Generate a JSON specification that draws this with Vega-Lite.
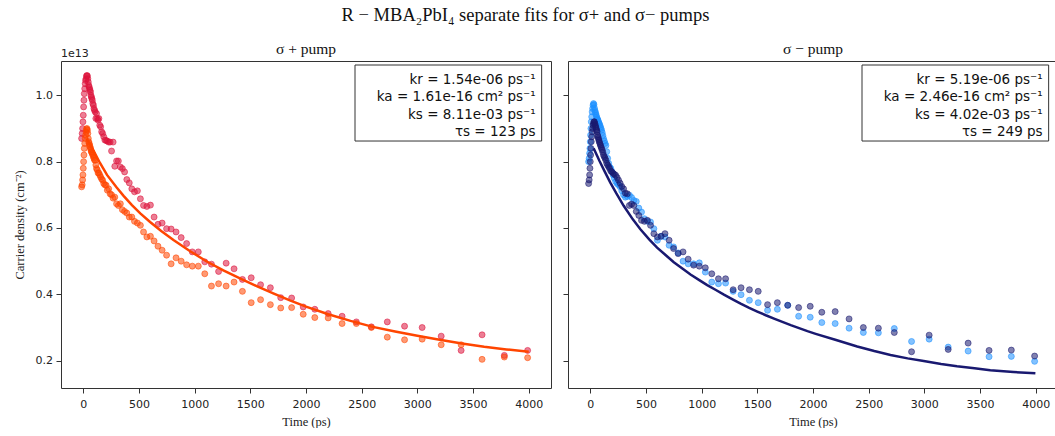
{
"$schema":"https://vega.github.io/schema/vega-lite/v6.json",
"padding":{"left":12,"top":5,"right":0,"bottom":0},
"background":"white",
"config":{"view":{"stroke":"#333","strokeWidth":1},
"axis":{"grid":false,"domain":false,"tickColor":"#333","tickSize":5,"labelFont":"DejaVu Sans","labelFontSize":11,"labelColor":"#222","labelPadding":3.5,"titleFont":"Liberation Serif","titleFontSize":12.5,"titleFontWeight":"normal","titleColor":"#222"},
"axisX":{"labelPadding":5,"titlePadding":6},
"title":{"font":"Liberation Serif","fontWeight":"normal","color":"#111"}},
"title":{"text":"R − MBA₂PbI₄ separate  fits for σ+  and σ−  pumps","fontSize":18.5,"anchor":"middle","offset":17,"dx":-10},
"spacing":10,
"datasets":{
"pts":[
{"s":"L1","t":-15,"n":0.87},{"s":"L1","t":-10,"n":0.885},{"s":"L1","t":-6,"n":0.9},{"s":"L1","t":-3,"n":0.92},{"s":"L1","t":0,"n":0.94},{"s":"L1","t":3,"n":0.965},{"s":"L1","t":6,"n":0.985},{"s":"L1","t":9,"n":1.005},{"s":"L1","t":13,"n":1.02},{"s":"L1","t":17,"n":1.035},{"s":"L1","t":21,"n":1.045},{"s":"L1","t":25,"n":1.05},{"s":"L1","t":29,"n":1.058},{"s":"L1","t":33,"n":1.06},{"s":"L1","t":37,"n":1.058},{"s":"L1","t":41,"n":1.05},{"s":"L1","t":45,"n":1.04},{"s":"L1","t":49,"n":1.03},{"s":"L1","t":53,"n":1.025},{"s":"L1","t":57,"n":1.02},{"s":"L1","t":61,"n":1.015},{"s":"L1","t":65,"n":1.01},{"s":"L1","t":69,"n":1.0},{"s":"L1","t":73,"n":0.995},{"s":"L1","t":77,"n":0.99},{"s":"L1","t":81,"n":0.985},{"s":"L1","t":86,"n":0.975},{"s":"L1","t":91,"n":0.97},{"s":"L1","t":96,"n":0.96},{"s":"L1","t":101,"n":0.955},{"s":"L1","t":107,"n":0.95},{"s":"L1","t":113,"n":0.93},{"s":"L1","t":119,"n":0.945},{"s":"L1","t":126,"n":0.93},{"s":"L1","t":133,"n":0.925},{"s":"L1","t":140,"n":0.93},{"s":"L1","t":148,"n":0.91},{"s":"L1","t":156,"n":0.905},{"s":"L1","t":165,"n":0.89},{"s":"L1","t":174,"n":0.885},{"s":"L1","t":184,"n":0.875},{"s":"L1","t":194,"n":0.865},{"s":"L1","t":205,"n":0.864},{"s":"L1","t":216,"n":0.862},{"s":"L1","t":228,"n":0.859},{"s":"L1","t":241,"n":0.859},{"s":"L1","t":254,"n":0.832},{"s":"L1","t":268,"n":0.859},{"s":"L1","t":283,"n":0.786},{"s":"L1","t":299,"n":0.802},{"s":"L1","t":315,"n":0.802},{"s":"L1","t":333,"n":0.784},{"s":"L1","t":351,"n":0.779},{"s":"L1","t":371,"n":0.769},{"s":"L1","t":391,"n":0.746},{"s":"L1","t":413,"n":0.736},{"s":"L1","t":436,"n":0.718},{"s":"L1","t":460,"n":0.709},{"s":"L1","t":486,"n":0.712},{"s":"L1","t":513,"n":0.688},{"s":"L1","t":541,"n":0.668},{"s":"L1","t":571,"n":0.665},{"s":"L1","t":603,"n":0.669},{"s":"L1","t":636,"n":0.633},{"s":"L1","t":671,"n":0.611},{"s":"L1","t":708,"n":0.615},{"s":"L1","t":748,"n":0.598},{"s":"L1","t":789,"n":0.597},{"s":"L1","t":833,"n":0.588},{"s":"L1","t":879,"n":0.571},{"s":"L1","t":928,"n":0.553},{"s":"L1","t":979,"n":0.528},{"s":"L1","t":1033,"n":0.528},{"s":"L1","t":1091,"n":0.498},{"s":"L1","t":1151,"n":0.491},{"s":"L1","t":1215,"n":0.469},{"s":"L1","t":1283,"n":0.494},{"s":"L1","t":1354,"n":0.477},{"s":"L1","t":1429,"n":0.445},{"s":"L1","t":1508,"n":0.45},{"s":"L1","t":1592,"n":0.429},{"s":"L1","t":1680,"n":0.42},{"s":"L1","t":1773,"n":0.39},{"s":"L1","t":1871,"n":0.389},{"s":"L1","t":1975,"n":0.362},{"s":"L1","t":2079,"n":0.355},{"s":"L1","t":2199,"n":0.342},{"s":"L1","t":2324,"n":0.334},{"s":"L1","t":2452,"n":0.317},{"s":"L1","t":2587,"n":0.302},{"s":"L1","t":2730,"n":0.317},{"s":"L1","t":2885,"n":0.304},{"s":"L1","t":3043,"n":0.3},{"s":"L1","t":3214,"n":0.274},{"s":"L1","t":3393,"n":0.231},{"s":"L1","t":3581,"n":0.278},{"s":"L1","t":3781,"n":0.216},{"s":"L1","t":3990,"n":0.231},
{"s":"L2","t":-15,"n":0.724},{"s":"L2","t":-10,"n":0.73},{"s":"L2","t":-6,"n":0.745},{"s":"L2","t":-3,"n":0.76},{"s":"L2","t":0,"n":0.78},{"s":"L2","t":3,"n":0.8},{"s":"L2","t":6,"n":0.82},{"s":"L2","t":9,"n":0.84},{"s":"L2","t":13,"n":0.855},{"s":"L2","t":17,"n":0.87},{"s":"L2","t":21,"n":0.88},{"s":"L2","t":25,"n":0.89},{"s":"L2","t":29,"n":0.898},{"s":"L2","t":33,"n":0.9},{"s":"L2","t":37,"n":0.895},{"s":"L2","t":41,"n":0.885},{"s":"L2","t":45,"n":0.87},{"s":"L2","t":49,"n":0.86},{"s":"L2","t":53,"n":0.855},{"s":"L2","t":57,"n":0.85},{"s":"L2","t":61,"n":0.845},{"s":"L2","t":65,"n":0.84},{"s":"L2","t":69,"n":0.835},{"s":"L2","t":73,"n":0.83},{"s":"L2","t":77,"n":0.828},{"s":"L2","t":81,"n":0.824},{"s":"L2","t":86,"n":0.82},{"s":"L2","t":91,"n":0.815},{"s":"L2","t":96,"n":0.81},{"s":"L2","t":101,"n":0.805},{"s":"L2","t":107,"n":0.804},{"s":"L2","t":113,"n":0.79},{"s":"L2","t":119,"n":0.779},{"s":"L2","t":126,"n":0.775},{"s":"L2","t":133,"n":0.766},{"s":"L2","t":140,"n":0.766},{"s":"L2","t":148,"n":0.76},{"s":"L2","t":156,"n":0.754},{"s":"L2","t":165,"n":0.748},{"s":"L2","t":174,"n":0.744},{"s":"L2","t":184,"n":0.734},{"s":"L2","t":194,"n":0.73},{"s":"L2","t":205,"n":0.729},{"s":"L2","t":216,"n":0.714},{"s":"L2","t":228,"n":0.718},{"s":"L2","t":241,"n":0.703},{"s":"L2","t":254,"n":0.7},{"s":"L2","t":268,"n":0.69},{"s":"L2","t":283,"n":0.693},{"s":"L2","t":299,"n":0.673},{"s":"L2","t":315,"n":0.668},{"s":"L2","t":333,"n":0.673},{"s":"L2","t":351,"n":0.655},{"s":"L2","t":371,"n":0.65},{"s":"L2","t":391,"n":0.645},{"s":"L2","t":413,"n":0.633},{"s":"L2","t":436,"n":0.633},{"s":"L2","t":460,"n":0.62},{"s":"L2","t":486,"n":0.615},{"s":"L2","t":513,"n":0.608},{"s":"L2","t":541,"n":0.588},{"s":"L2","t":571,"n":0.573},{"s":"L2","t":603,"n":0.575},{"s":"L2","t":636,"n":0.561},{"s":"L2","t":671,"n":0.545},{"s":"L2","t":708,"n":0.533},{"s":"L2","t":748,"n":0.518},{"s":"L2","t":789,"n":0.492},{"s":"L2","t":833,"n":0.51},{"s":"L2","t":879,"n":0.5},{"s":"L2","t":928,"n":0.489},{"s":"L2","t":979,"n":0.485},{"s":"L2","t":1033,"n":0.485},{"s":"L2","t":1091,"n":0.462},{"s":"L2","t":1151,"n":0.425},{"s":"L2","t":1215,"n":0.432},{"s":"L2","t":1283,"n":0.425},{"s":"L2","t":1354,"n":0.437},{"s":"L2","t":1429,"n":0.409},{"s":"L2","t":1508,"n":0.375},{"s":"L2","t":1592,"n":0.384},{"s":"L2","t":1680,"n":0.369},{"s":"L2","t":1773,"n":0.359},{"s":"L2","t":1871,"n":0.36},{"s":"L2","t":1975,"n":0.34},{"s":"L2","t":2079,"n":0.33},{"s":"L2","t":2199,"n":0.329},{"s":"L2","t":2324,"n":0.312},{"s":"L2","t":2452,"n":0.312},{"s":"L2","t":2587,"n":0.3},{"s":"L2","t":2730,"n":0.271},{"s":"L2","t":2885,"n":0.263},{"s":"L2","t":3043,"n":0.265},{"s":"L2","t":3214,"n":0.248},{"s":"L2","t":3393,"n":0.248},{"s":"L2","t":3581,"n":0.204},{"s":"L2","t":3781,"n":0.211},{"s":"L2","t":3990,"n":0.209},
{"s":"R2","t":-15,"n":0.8},{"s":"R2","t":-10,"n":0.81},{"s":"R2","t":-6,"n":0.825},{"s":"R2","t":-3,"n":0.84},{"s":"R2","t":0,"n":0.86},{"s":"R2","t":3,"n":0.88},{"s":"R2","t":6,"n":0.9},{"s":"R2","t":9,"n":0.92},{"s":"R2","t":13,"n":0.935},{"s":"R2","t":17,"n":0.95},{"s":"R2","t":21,"n":0.96},{"s":"R2","t":25,"n":0.97},{"s":"R2","t":29,"n":0.975},{"s":"R2","t":33,"n":0.972},{"s":"R2","t":37,"n":0.962},{"s":"R2","t":41,"n":0.955},{"s":"R2","t":45,"n":0.95},{"s":"R2","t":49,"n":0.945},{"s":"R2","t":53,"n":0.94},{"s":"R2","t":57,"n":0.935},{"s":"R2","t":61,"n":0.93},{"s":"R2","t":65,"n":0.928},{"s":"R2","t":69,"n":0.925},{"s":"R2","t":73,"n":0.92},{"s":"R2","t":77,"n":0.917},{"s":"R2","t":81,"n":0.914},{"s":"R2","t":86,"n":0.91},{"s":"R2","t":91,"n":0.905},{"s":"R2","t":96,"n":0.9},{"s":"R2","t":101,"n":0.895},{"s":"R2","t":107,"n":0.888},{"s":"R2","t":113,"n":0.879},{"s":"R2","t":119,"n":0.87},{"s":"R2","t":126,"n":0.862},{"s":"R2","t":133,"n":0.855},{"s":"R2","t":140,"n":0.849},{"s":"R2","t":148,"n":0.83},{"s":"R2","t":156,"n":0.81},{"s":"R2","t":165,"n":0.795},{"s":"R2","t":174,"n":0.784},{"s":"R2","t":184,"n":0.78},{"s":"R2","t":194,"n":0.77},{"s":"R2","t":205,"n":0.76},{"s":"R2","t":216,"n":0.75},{"s":"R2","t":228,"n":0.74},{"s":"R2","t":241,"n":0.734},{"s":"R2","t":254,"n":0.73},{"s":"R2","t":268,"n":0.724},{"s":"R2","t":283,"n":0.712},{"s":"R2","t":299,"n":0.7},{"s":"R2","t":315,"n":0.693},{"s":"R2","t":333,"n":0.695},{"s":"R2","t":351,"n":0.699},{"s":"R2","t":371,"n":0.692},{"s":"R2","t":391,"n":0.683},{"s":"R2","t":413,"n":0.68},{"s":"R2","t":436,"n":0.66},{"s":"R2","t":460,"n":0.648},{"s":"R2","t":486,"n":0.628},{"s":"R2","t":513,"n":0.62},{"s":"R2","t":541,"n":0.618},{"s":"R2","t":571,"n":0.598},{"s":"R2","t":603,"n":0.563},{"s":"R2","t":636,"n":0.575},{"s":"R2","t":671,"n":0.573},{"s":"R2","t":708,"n":0.548},{"s":"R2","t":748,"n":0.543},{"s":"R2","t":789,"n":0.525},{"s":"R2","t":833,"n":0.5},{"s":"R2","t":879,"n":0.492},{"s":"R2","t":928,"n":0.492},{"s":"R2","t":979,"n":0.495},{"s":"R2","t":1033,"n":0.467},{"s":"R2","t":1091,"n":0.437},{"s":"R2","t":1151,"n":0.432},{"s":"R2","t":1215,"n":0.434},{"s":"R2","t":1283,"n":0.409},{"s":"R2","t":1354,"n":0.399},{"s":"R2","t":1429,"n":0.382},{"s":"R2","t":1508,"n":0.375},{"s":"R2","t":1592,"n":0.352},{"s":"R2","t":1680,"n":0.355},{"s":"R2","t":1773,"n":0.367},{"s":"R2","t":1871,"n":0.334},{"s":"R2","t":1975,"n":0.331},{"s":"R2","t":2079,"n":0.315},{"s":"R2","t":2199,"n":0.312},{"s":"R2","t":2324,"n":0.298},{"s":"R2","t":2452,"n":0.285},{"s":"R2","t":2587,"n":0.284},{"s":"R2","t":2730,"n":0.297},{"s":"R2","t":2885,"n":0.258},{"s":"R2","t":3043,"n":0.265},{"s":"R2","t":3214,"n":0.241},{"s":"R2","t":3393,"n":0.229},{"s":"R2","t":3581,"n":0.212},{"s":"R2","t":3781,"n":0.213},{"s":"R2","t":3990,"n":0.198},
{"s":"R1","t":-15,"n":0.734},{"s":"R1","t":-10,"n":0.745},{"s":"R1","t":-6,"n":0.76},{"s":"R1","t":-3,"n":0.78},{"s":"R1","t":0,"n":0.8},{"s":"R1","t":3,"n":0.82},{"s":"R1","t":6,"n":0.84},{"s":"R1","t":9,"n":0.86},{"s":"R1","t":13,"n":0.875},{"s":"R1","t":17,"n":0.89},{"s":"R1","t":21,"n":0.9},{"s":"R1","t":25,"n":0.91},{"s":"R1","t":29,"n":0.915},{"s":"R1","t":33,"n":0.92},{"s":"R1","t":37,"n":0.92},{"s":"R1","t":41,"n":0.915},{"s":"R1","t":45,"n":0.91},{"s":"R1","t":49,"n":0.905},{"s":"R1","t":53,"n":0.9},{"s":"R1","t":57,"n":0.895},{"s":"R1","t":61,"n":0.89},{"s":"R1","t":65,"n":0.88},{"s":"R1","t":69,"n":0.875},{"s":"R1","t":73,"n":0.87},{"s":"R1","t":77,"n":0.865},{"s":"R1","t":81,"n":0.86},{"s":"R1","t":86,"n":0.855},{"s":"R1","t":91,"n":0.85},{"s":"R1","t":96,"n":0.845},{"s":"R1","t":101,"n":0.84},{"s":"R1","t":107,"n":0.835},{"s":"R1","t":113,"n":0.828},{"s":"R1","t":119,"n":0.82},{"s":"R1","t":126,"n":0.815},{"s":"R1","t":133,"n":0.81},{"s":"R1","t":140,"n":0.804},{"s":"R1","t":148,"n":0.795},{"s":"R1","t":156,"n":0.79},{"s":"R1","t":165,"n":0.785},{"s":"R1","t":174,"n":0.779},{"s":"R1","t":184,"n":0.772},{"s":"R1","t":194,"n":0.769},{"s":"R1","t":205,"n":0.765},{"s":"R1","t":216,"n":0.762},{"s":"R1","t":228,"n":0.759},{"s":"R1","t":241,"n":0.752},{"s":"R1","t":254,"n":0.744},{"s":"R1","t":268,"n":0.735},{"s":"R1","t":283,"n":0.725},{"s":"R1","t":299,"n":0.718},{"s":"R1","t":315,"n":0.705},{"s":"R1","t":333,"n":0.703},{"s":"R1","t":351,"n":0.668},{"s":"R1","t":371,"n":0.672},{"s":"R1","t":391,"n":0.668},{"s":"R1","t":413,"n":0.65},{"s":"R1","t":436,"n":0.638},{"s":"R1","t":460,"n":0.623},{"s":"R1","t":486,"n":0.62},{"s":"R1","t":513,"n":0.623},{"s":"R1","t":541,"n":0.608},{"s":"R1","t":571,"n":0.583},{"s":"R1","t":603,"n":0.573},{"s":"R1","t":636,"n":0.575},{"s":"R1","t":671,"n":0.583},{"s":"R1","t":708,"n":0.563},{"s":"R1","t":748,"n":0.538},{"s":"R1","t":789,"n":0.523},{"s":"R1","t":833,"n":0.528},{"s":"R1","t":879,"n":0.506},{"s":"R1","t":928,"n":0.488},{"s":"R1","t":979,"n":0.485},{"s":"R1","t":1033,"n":0.48},{"s":"R1","t":1091,"n":0.462},{"s":"R1","t":1151,"n":0.447},{"s":"R1","t":1215,"n":0.447},{"s":"R1","t":1283,"n":0.414},{"s":"R1","t":1354,"n":0.42},{"s":"R1","t":1429,"n":0.414},{"s":"R1","t":1508,"n":0.409},{"s":"R1","t":1592,"n":0.369},{"s":"R1","t":1680,"n":0.375},{"s":"R1","t":1773,"n":0.367},{"s":"R1","t":1871,"n":0.36},{"s":"R1","t":1975,"n":0.364},{"s":"R1","t":2079,"n":0.346},{"s":"R1","t":2199,"n":0.348},{"s":"R1","t":2324,"n":0.326},{"s":"R1","t":2452,"n":0.3},{"s":"R1","t":2587,"n":0.298},{"s":"R1","t":2730,"n":0.285},{"s":"R1","t":2885,"n":0.227},{"s":"R1","t":3043,"n":0.277},{"s":"R1","t":3214,"n":0.234},{"s":"R1","t":3393,"n":0.253},{"s":"R1","t":3581,"n":0.231},{"s":"R1","t":3781,"n":0.232},{"s":"R1","t":3990,"n":0.214}
],
"fit":[
{"s":"L","t":30,"n":0.87},{"s":"L","t":50,"n":0.858},{"s":"L","t":75,"n":0.843},{"s":"L","t":100,"n":0.828},{"s":"L","t":150,"n":0.796},{"s":"L","t":213,"n":0.76},{"s":"L","t":300,"n":0.722},{"s":"L","t":362,"n":0.697},{"s":"L","t":437,"n":0.669},{"s":"L","t":512,"n":0.644},{"s":"L","t":600,"n":0.618},{"s":"L","t":700,"n":0.591},{"s":"L","t":810,"n":0.564},{"s":"L","t":960,"n":0.53},{"s":"L","t":1109,"n":0.499},{"s":"L","t":1258,"n":0.472},{"s":"L","t":1407,"n":0.448},{"s":"L","t":1557,"n":0.425},{"s":"L","t":1706,"n":0.403},{"s":"L","t":1855,"n":0.382},{"s":"L","t":2000,"n":0.363},{"s":"L","t":2200,"n":0.34},{"s":"L","t":2400,"n":0.32},{"s":"L","t":2600,"n":0.302},{"s":"L","t":2800,"n":0.288},{"s":"L","t":3000,"n":0.275},{"s":"L","t":3200,"n":0.263},{"s":"L","t":3400,"n":0.252},{"s":"L","t":3600,"n":0.242},{"s":"L","t":3800,"n":0.234},{"s":"L","t":4000,"n":0.227},
{"s":"R","t":30,"n":0.84},{"s":"R","t":50,"n":0.826},{"s":"R","t":83,"n":0.802},{"s":"R","t":130,"n":0.77},{"s":"R","t":180,"n":0.737},{"s":"R","t":233,"n":0.705},{"s":"R","t":300,"n":0.667},{"s":"R","t":382,"n":0.626},{"s":"R","t":450,"n":0.596},{"s":"R","t":531,"n":0.565},{"s":"R","t":600,"n":0.541},{"s":"R","t":681,"n":0.517},{"s":"R","t":750,"n":0.497},{"s":"R","t":830,"n":0.477},{"s":"R","t":900,"n":0.46},{"s":"R","t":979,"n":0.443},{"s":"R","t":1050,"n":0.428},{"s":"R","t":1128,"n":0.413},{"s":"R","t":1200,"n":0.399},{"s":"R","t":1278,"n":0.385},{"s":"R","t":1350,"n":0.372},{"s":"R","t":1427,"n":0.359},{"s":"R","t":1500,"n":0.348},{"s":"R","t":1576,"n":0.337},{"s":"R","t":1650,"n":0.327},{"s":"R","t":1725,"n":0.317},{"s":"R","t":1800,"n":0.307},{"s":"R","t":1875,"n":0.298},{"s":"R","t":1950,"n":0.289},{"s":"R","t":2024,"n":0.281},{"s":"R","t":2200,"n":0.263},{"s":"R","t":2397,"n":0.243},{"s":"R","t":2550,"n":0.229},{"s":"R","t":2696,"n":0.217},{"s":"R","t":2850,"n":0.207},{"s":"R","t":2994,"n":0.199},{"s":"R","t":3150,"n":0.19},{"s":"R","t":3293,"n":0.183},{"s":"R","t":3450,"n":0.177},{"s":"R","t":3592,"n":0.171},{"s":"R","t":3800,"n":0.166},{"s":"R","t":3997,"n":0.162}
]},
"hconcat":[
{"width":490,"height":327,
"title":{"text":"σ +  pump","fontSize":15.5,"offset":-9},
"layer":[
{"data":{"name":"pts"},"transform":[{"filter":{"field":"s","oneOf":["L1","L2"]}}],
"mark":{"type":"point","filled":true,"size":36,"fillOpacity":0.55,"strokeOpacity":0.55,"strokeWidth":1},
"encoding":{
"x":{"field":"t","type":"quantitative","scale":{"domain":[-200,4200],"nice":false,"zero":false},"axis":{"values":[0,500,1000,1500,2000,2500,3000,3500,4000],"format":"d","title":"Time (ps)"}},
"y":{"field":"n","type":"quantitative","scale":{"domain":[0.1177,1.1034],"nice":false,"zero":false},"axis":{"values":[0.2,0.4,0.6,0.8,1.0],"format":".1f","title":"Carrier density (cm⁻²)","titlePadding":9}},
"color":{"field":"s","type":"nominal","scale":{"domain":["L1","L2","R1","R2"],"range":["#DC143C","#FF4500","#191970","#1E90FF"]},"legend":null},
"stroke":{"field":"s","type":"nominal","scale":{"domain":["L1","L2","R1","R2"],"range":["#DC143C","#FF4500","#191970","#1E90FF"]},"legend":null}}},
{"data":{"name":"fit"},"transform":[{"filter":{"field":"s","equal":"L"}}],
"mark":{"type":"line","color":"#FF4500","strokeWidth":2.5},
"encoding":{"x":{"field":"t","type":"quantitative"},"y":{"field":"n","type":"quantitative"}}},
{"data":{"values":[{}]},"mark":{"type":"rect","fill":"white","stroke":"#333","strokeWidth":1},
"encoding":{"x":{"datum":2440,"type":"quantitative"},"x2":{"datum":4116},"y":{"datum":1.0913,"type":"quantitative"},"y2":{"datum":0.8622}}},
{"data":{"values":[{}]},"mark":{"type":"text","align":"right","baseline":"top","font":"DejaVu Sans","fontSize":13.5,"lineHeight":17.5,"color":"#111","text":["kr = 1.54e-06 ps⁻¹","ka = 1.61e-16 cm² ps⁻¹","ks = 8.11e-03 ps⁻¹","τs = 123 ps"]},
"encoding":{"x":{"datum":4062,"type":"quantitative"},"y":{"datum":1.068,"type":"quantitative"}}},
{"data":{"values":[{}]},"mark":{"type":"text","align":"left","baseline":"bottom","dy":-2,"font":"DejaVu Sans","fontSize":11,"color":"#222","text":"1e13"},
"encoding":{"x":{"datum":-200,"type":"quantitative"},"y":{"datum":1.1034,"type":"quantitative"}}}
]},
{"width":490,"height":327,
"title":{"text":"σ −  pump","fontSize":15.5,"offset":4},
"layer":[
{"data":{"name":"pts"},"transform":[{"filter":{"field":"s","oneOf":["R1","R2"]}}],
"mark":{"type":"point","filled":true,"size":36,"fillOpacity":0.55,"strokeOpacity":0.55,"strokeWidth":1},
"encoding":{
"x":{"field":"t","type":"quantitative","scale":{"domain":[-200,4200],"nice":false,"zero":false},"axis":{"values":[0,500,1000,1500,2000,2500,3000,3500,4000],"format":"d","title":"Time (ps)"}},
"y":{"field":"n","type":"quantitative","scale":{"domain":[0.1177,1.1034],"nice":false,"zero":false},"axis":{"values":[0.2,0.4,0.6,0.8,1.0],"labels":false,"title":null}},
"color":{"field":"s","type":"nominal","scale":{"domain":["L1","L2","R1","R2"],"range":["#DC143C","#FF4500","#191970","#1E90FF"]},"legend":null},
"stroke":{"field":"s","type":"nominal","scale":{"domain":["L1","L2","R1","R2"],"range":["#DC143C","#FF4500","#191970","#1E90FF"]},"legend":null}}},
{"data":{"name":"fit"},"transform":[{"filter":{"field":"s","equal":"R"}}],
"mark":{"type":"line","color":"#191970","strokeWidth":2.5},
"encoding":{"x":{"field":"t","type":"quantitative"},"y":{"field":"n","type":"quantitative"}}},
{"data":{"values":[{}]},"mark":{"type":"rect","fill":"white","stroke":"#333","strokeWidth":1},
"encoding":{"x":{"datum":2440,"type":"quantitative"},"x2":{"datum":4116},"y":{"datum":1.0913,"type":"quantitative"},"y2":{"datum":0.8622}}},
{"data":{"values":[{}]},"mark":{"type":"text","align":"right","baseline":"top","font":"DejaVu Sans","fontSize":13.5,"lineHeight":17.5,"color":"#111","text":["kr = 5.19e-06 ps⁻¹","ka = 2.46e-16 cm² ps⁻¹","ks = 4.02e-03 ps⁻¹","τs = 249 ps"]},
"encoding":{"x":{"datum":4062,"type":"quantitative"},"y":{"datum":1.068,"type":"quantitative"}}}
]}
]
}
